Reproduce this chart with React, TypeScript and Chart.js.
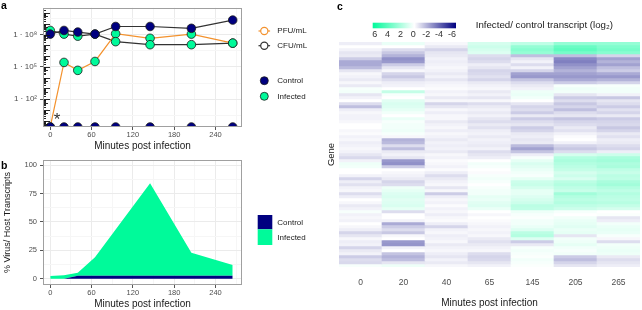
import React, { useEffect, useRef } from 'react';
import { Chart, registerables } from 'chart.js';

Chart.register(...registerables);

const FONT = "'Liberation Sans', Arial, Helvetica, sans-serif";
const NAVY = '#000080';
const GREEN = '#00FA9A';
const ORANGE = '#F3922E';
const DARK = '#333333';
const TICK_GREY = '#4D4D4D';
const TEXT = '#1A1A1A';
const GRID_MAJOR = '#EBEBEB';
const GRID_MINOR = '#F6F6F6';
const PANEL_BORDER = '#A0A0A0';

// ---------- a: bacterial (CFU) and phage (PFU) titres ----------
const TITRE_MINUTES = [0, 20, 40, 65, 95, 145, 205, 265];
const CFU_CONTROL = [1.1e8, 2.4e8, 1.7e8, 1.1e8, 5.6e8, 5.6e8, 3.8e8, 2.2e9];
const CFU_INFECTED = [2.4e8, 1.1e8, 7.1e7, 1.1e8, 2.2e7, 1.15e7, 1.15e7, 1.6e7];
const PFU_CONTROL = [0, 0, 0, 0, 0, 0, 0, 0];
const PFU_INFECTED = [0, 2.6e5, 4.8e4, 3.2e5, 1.2e8, 4.5e7, 1.1e8, 1.6e7];
const TITRE_TICK_EXPONENTS = [2, 5, 8];
const TITRE_TICK_LABELS = ['1 · 10²', '1 · 10⁵', '1 · 10⁸'];

// ---------- b: share of viral reads ----------
const READ_MINUTES = [0, 20, 40, 65, 145, 205, 265];
const VIRUS_PCT_CONTROL = [0, 0, 2.7, 2.7, 2.7, 2.7, 2.7];
const VIRUS_PCT_INFECTED = [2.5, 3.0, 2.6, 16.2, 81.3, 20.2, 9.4];
const PCT_TICKS = [0, 25, 50, 75, 100];

// ---------- c: per-gene log2 ratio, infected / control ----------
const HEATMAP_MINUTES = ['0', '20', '40', '65', '145', '205', '265'];
const LOG2_T0 = [
  -0.4, 0, -0.3, -0.6, -0.5, -1.2, -2, -2, -1.6, -0.6, -0.2, -0.3, -0.5, -0.2, -0.5, 0.2, 0.3, -0.6, -0.3, 0, -0.8, -1.5, -0.4, -0.2, -0.3,
  -0.3, -0.2, 0, 0, -0.2, -0.1, -0.3, -0.2, -0.4, -0.3, -0.2, -0.3, -0.6, -0.9, -0.3, 0.4, 0.3, 0, 0, -0.3, -1.0, -0.4, -0.7, -0.3, -0.2,
  -0.8, -0.4, 0, -0.2, -0.5, -0.3, 0.2, -0.3, -0.2, -0.3, 0, -0.2, -0.4, -1.0, -0.6, -0.2, -0.4, -0.3, -1.0, -0.5, -0.3, -1.2, -0.8, -0.9, 0.2,
];
const LOG2_T20 = [
  0.5, 0, -0.8, -1.3, -1.8, -2.6, -2.4, -1.2, -0.6, -0.2, -1.0, -1.3, -0.8, -0.4, -0.3, 0, 1.4, 0.2, 0, 0.7, 0.9, 0.8, 0.6, 0.3, 0,
  0.5, 0.2, 0.3, 0.3, 0.4, 0.2, -0.2, -1.8, -1.6, -0.8, -1.5, -0.5, -0.3, -0.6, -2.4, -2.6, -1.2, 0, -0.2, -0.3, -0.5, -1.0, -0.8, 0.4, 0.6,
  0.8, 0.9, 0.7, 0.8, 0.9, 0.6, -0.8, 0, 0, -0.3, -2.0, -1.2, -0.8, -1.3, -0.2, 0, -2.4, -2.5, -0.3, 0, -1.4, -1.8, -1.5, -0.6, 0.4,
];
const LOG2_T40 = [
  -0.2, -0.5, -1.0, -0.6, -0.5, -0.3, -0.4, -0.3, -0.2, -0.3, -0.5, -0.3, -0.6, -0.3, -0.2, -0.1, -0.3, -0.2, -0.5, -0.2, -1.0, -0.6, -0.2, -0.4, -0.2,
  -0.2, -0.5, -0.3, -0.2, -0.4, -0.2, -0.3, -0.5, -0.3, -0.4, -0.3, -0.5, -0.2, -0.3, -0.1, -0.2, -0.3, -0.1, -0.4, -0.8, -0.5, -0.3, -0.2, -0.6, -0.2,
  -1.2, -0.4, -0.2, -0.3, -0.1, -0.3, -0.2, -0.4, -0.2, -0.1, -0.4, -1.0, -0.3, -0.2, -0.4, -0.3, -0.2, -0.5, -0.3, -0.2, -0.4, -0.6, -0.3, -0.5, -0.2,
];
const LOG2_T65 = [
  1.0, 1.2, 1.0, 0.8, -0.8, -1.0, -0.8, -0.4, -0.6, -1.0, -0.9, -0.7, -1.0, -0.5, -0.3, -0.2, -0.5, -0.3, -0.6, -0.2, -0.8, -0.5, -0.3, -0.5, -0.3,
  -0.6, -0.8, -0.5, -0.7, -0.4, -0.3, -0.5, -0.3, -0.4, -0.5, -0.3, -0.8, -0.6, -0.4, 0, 0.3, 0.2, 0, -0.1, 0.2, 0.3, 0.2, 0, 0.2, 0.3,
  0.3, 0.6, 0.5, 0.7, 0.8, 0.5, 0, -0.2, 0, -0.1, -0.2, -0.3, -0.2, -0.3, -0.2, -0.5, -0.7, -0.5, -0.3, -0.2, -0.8, -1.0, -0.9, -0.6, -0.3,
];
const LOG2_T145 = [
  1.5, 2.5, 2.8, 2.5, -1.5, -0.6, -0.3, -0.8, -0.3, -1.0, -2.2, -2.4, -1.4, -0.8, -0.5, -0.3, 0.4, 0.5, 0.3, 0, -0.6, -1.0, -0.8, -1.2, -0.5,
  -1.2, -0.8, -0.6, -1.2, -1.0, -0.5, -0.4, -0.6, -0.5, -1.6, -2.2, -1.4, -0.4, 0.2, 0.6, 0.9, 0.7, 0.5, 0.3, 0.2, 0.6, 1.2, 1.3, 1.0, 0.6,
  0.6, 0.8, 1.0, 1.2, 1.6, 1.5, 0.4, 0.2, 0.1, 0.3, 0.3, 0.5, 0.8, 1.6, 1.8, 0.8, -1.2, -0.5, 0.2, 0.3, 0.2, 0.1, 0.3, 0.2, 0.1,
];
const LOG2_T205 = [
  2.5, 3.5, 3.8, 3.2, -1.5, -2.8, -3.0, -2.6, -2.2, -1.8, -2.2, -2.4, -2.0, -1.2, 0.2, 0.4, 0.3, -0.6, -1.2, -0.8, -1.3, -1.0, -1.5, -0.8, -0.6,
  -1.4, -1.0, -0.8, -0.5, -0.7, -0.3, -0.1, 0, -0.3, -1.0, -1.3, -0.8, 1.0, 1.8, 2.0, 1.8, 1.6, 1.4, 1.0, 1.2, 0.9, 1.6, 1.8, 1.5, 1.3,
  2.2, 1.8, 1.6, 1.8, 1.5, 1.2, 0.2, 0, 0.3, 0.5, 0.6, 0.7, 0.5, 0.6, -0.6, 0.3, 0.4, 0.6, 0.3, 0.2, 0.3, -1.2, -1.5, -1.0, -0.6,
];
const LOG2_T265 = [
  2.5, 3.0, 3.2, 2.8, -1.0, -2.2, -1.8, -2.2, -1.5, -1.2, -2.0, -2.4, -1.8, -1.0, 0.2, 0.3, 0.3, -0.3, -1.3, -0.6, -0.8, -1.2, -0.7, -1.0, -0.5,
  -1.2, -1.0, -0.9, -1.3, -1.0, -0.5, -0.7, -0.4, -0.5, -0.8, -1.0, -0.4, 1.2, 2.0, 2.2, 1.9, 2.0, 1.5, 1.3, 1.6, 1.5, 2.0, 2.2, 1.8, 1.5,
  1.8, 1.6, 1.5, 1.7, 1.4, 1.0, 0, 0.1, -0.6, -0.4, 0.3, 0.5, 0.6, 0.5, 0.2, -0.2, -0.8, 0.3, 0.4, 0.5, 0.4, -0.5, -0.8, -0.6, -0.4,
];
const COLORBAR_TICKS = [6, 4, 2, 0, -2, -4, -6];

// ---------- shared helpers ----------
const WHITE_RGB = [255, 255, 255];
const UP_RGB = [0, 250, 154];
const DOWN_RGB = [0, 0, 128];
const RATIO_LIMIT = 6;

function ratioColor(v: number): string {
  const t = Math.max(-1, Math.min(1, (v || 0) / RATIO_LIMIT));
  const target = t >= 0 ? UP_RGB : DOWN_RGB;
  const f = Math.abs(t);
  const c = WHITE_RGB.map((w, i) => Math.round(w + (target[i] - w) * f));
  return `rgb(${c[0]},${c[1]},${c[2]})`;
}

const font = (size: number, weight = 'normal') => `${weight} ${size}px ${FONT}`;

function drawPanelLetter(ctx: CanvasRenderingContext2D, letter: string, x: number, y: number) {
  ctx.save();
  ctx.font = font(10.5, 'bold');
  ctx.fillStyle = '#000';
  ctx.textAlign = 'left';
  ctx.textBaseline = 'alphabetic';
  ctx.fillText(letter, x, y);
  ctx.restore();
}

function strokePanel(chart: any) {
  const { ctx, chartArea: a } = chart;
  ctx.save();
  ctx.strokeStyle = PANEL_BORDER;
  ctx.lineWidth = 1;
  ctx.strokeRect(Math.round(a.left) + 0.5, Math.round(a.top) + 0.5, Math.round(a.right - a.left) - 1, Math.round(a.bottom - a.top) - 1);
  ctx.restore();
}

// time axis shared by panels a and b
const TIME_MIN = -10.5;
const TIME_MAX = 278.5;
const TIME_GRID = [0, 30, 60, 90, 120, 150, 180, 210, 240, 270];
const isMajorMinute = (v: number) => v % 60 === 0;

function timeAxis(height: number) {
  return {
    type: 'linear',
    min: TIME_MIN,
    max: TIME_MAX,
    afterBuildTicks: (s: any) => { s.ticks = TIME_GRID.map((value) => ({ value })); },
    afterFit: (s: any) => { s.height = height; },
    ticks: {
      autoSkip: false,
      maxRotation: 0,
      padding: 0,
      color: TICK_GREY,
      font: { family: FONT, size: 7.5 },
      callback: (v: number) => (isMajorMinute(v) ? String(v) : ''),
    },
    grid: {
      color: (c: any) => (c.tick && isMajorMinute(c.tick.value) ? GRID_MAJOR : GRID_MINOR),
      tickColor: (c: any) => (c.tick && isMajorMinute(c.tick.value) ? '#555' : 'rgba(0,0,0,0)'),
      tickLength: 3,
      lineWidth: 1,
    },
    border: { display: false },
    title: { display: true, text: 'Minutes post infection', color: TEXT, font: { family: FONT, size: 10 }, padding: { top: 0, bottom: 0 } },
  };
}

// ---------- panel a ----------
const LOG_MIN = Math.pow(10, -0.57);
const LOG_MAX = Math.pow(10, 10.48);
const TITRE_GRID_EXPONENTS = [0.5, 2, 3.5, 5, 6.5, 8, 9.5];
const isLabelledExponent = (v: number) => TITRE_TICK_EXPONENTS.some((e) => Math.abs(Math.log10(v) - e) < 1e-6);

const titrePoints = (values: number[]) =>
  TITRE_MINUTES.map((x, i) => ({ x, y: values[i] > 0 ? values[i] : LOG_MIN }));

function makeTitreConfig(): any {
  const lines = [
    { values: PFU_INFECTED, color: ORANGE },
    { values: PFU_CONTROL, color: ORANGE },
    { values: CFU_INFECTED, color: DARK },
    { values: CFU_CONTROL, color: DARK },
  ].map((s) => ({
    data: titrePoints(s.values),
    borderColor: s.color,
    borderWidth: 1.2,
    pointRadius: 0,
    tension: 0,
    fill: false,
    clip: 0,
    order: 1,
  }));
  const dots = [
    { values: CFU_CONTROL, fill: NAVY },
    { values: PFU_CONTROL, fill: NAVY },
    { values: CFU_INFECTED, fill: GREEN },
    { values: PFU_INFECTED, fill: GREEN },
  ].map((s) => ({
    data: titrePoints(s.values),
    showLine: false,
    pointRadius: 4.3,
    pointBackgroundColor: s.fill,
    pointBorderColor: '#1A1A1A',
    pointBorderWidth: 0.8,
    clip: 0,
    order: 0,
  }));

  const decorations = {
    id: 'titreDecorations',
    afterDatasetsDraw(chart: any) {
      const { ctx, chartArea: a } = chart;
      const y = chart.scales.y;
      const x = chart.scales.x;
      ctx.save();
      ctx.beginPath();
      ctx.rect(a.left, a.top, a.right - a.left, a.bottom - a.top);
      ctx.clip();
      // log10 tick marks along the inside of the left edge
      ctx.strokeStyle = '#111';
      ctx.lineWidth = 0.9;
      for (let d = -1; d <= 11; d++) {
        for (let k = 1; k <= 9; k++) {
          const v = k * Math.pow(10, d);
          if (v < LOG_MIN || v > LOG_MAX) continue;
          const py = Math.round(y.getPixelForValue(v)) + 0.5;
          const len = k === 1 ? 7 : k === 5 ? 5 : 3;
          ctx.beginPath();
          ctx.moveTo(a.left, py);
          ctx.lineTo(a.left + len, py);
          ctx.stroke();
        }
      }
      ctx.restore();
      // marker for the first infected PFU sample
      ctx.save();
      ctx.font = font(17);
      ctx.fillStyle = DARK;
      ctx.textAlign = 'center';
      ctx.textBaseline = 'alphabetic';
      ctx.fillText('*', x.getPixelForValue(10), y.getPixelForValue(3) + 9.7);
      ctx.restore();
    },
    afterDraw(chart: any) {
      const { ctx } = chart;
      strokePanel(chart);
      drawPanelLetter(ctx, 'a', 1, 8.5);
      ctx.save();
      ctx.font = font(8);
      ctx.textBaseline = 'middle';
      ctx.textAlign = 'left';
      const symX = 264.3;
      const textX = 277.3;
      [
        { label: 'PFU/mL', color: ORANGE, y: 31 },
        { label: 'CFU/mL', color: DARK, y: 45.7 },
      ].forEach((e) => {
        ctx.strokeStyle = e.color;
        ctx.lineWidth = 1.2;
        ctx.beginPath();
        ctx.moveTo(symX - 5.8, e.y);
        ctx.lineTo(symX + 5.8, e.y);
        ctx.stroke();
        ctx.beginPath();
        ctx.arc(symX, e.y, 3.6, 0, Math.PI * 2);
        ctx.fillStyle = '#fff';
        ctx.fill();
        ctx.stroke();
        ctx.fillStyle = TEXT;
        ctx.fillText(e.label, textX, e.y);
      });
      [
        { label: 'Control', color: NAVY, y: 80.7 },
        { label: 'Infected', color: GREEN, y: 96.3 },
      ].forEach((e) => {
        ctx.beginPath();
        ctx.arc(symX, e.y, 4, 0, Math.PI * 2);
        ctx.fillStyle = e.color;
        ctx.fill();
        ctx.strokeStyle = '#1A1A1A';
        ctx.lineWidth = 0.8;
        ctx.stroke();
        ctx.fillStyle = TEXT;
        ctx.fillText(e.label, textX, e.y);
      });
      ctx.restore();
    },
  };

  return {
    type: 'line',
    data: { datasets: [...lines, ...dots] },
    options: {
      animation: false,
      responsive: false,
      devicePixelRatio: 1,
      events: [],
      layout: { padding: { top: 1, right: 78, left: 0, bottom: 0 } },
      plugins: { legend: { display: false }, tooltip: { enabled: false } },
      scales: {
        x: timeAxis(25),
        y: {
          type: 'logarithmic',
          min: LOG_MIN,
          max: LOG_MAX,
          afterBuildTicks: (s: any) => { s.ticks = TITRE_GRID_EXPONENTS.map((e) => ({ value: Math.pow(10, e) })); },
          afterFit: (s: any) => { s.width = 43; },
          ticks: {
            autoSkip: false,
            padding: 3,
            color: TICK_GREY,
            font: { family: FONT, size: 8 },
            callback: (v: number) => {
              const i = TITRE_TICK_EXPONENTS.findIndex((e) => Math.abs(Math.log10(v) - e) < 1e-6);
              return i >= 0 ? TITRE_TICK_LABELS[i] : '';
            },
          },
          grid: {
            color: (c: any) => (c.tick && isLabelledExponent(c.tick.value) ? GRID_MAJOR : GRID_MINOR),
            tickColor: (c: any) => (c.tick && isLabelledExponent(c.tick.value) ? '#555' : 'rgba(0,0,0,0)'),
            tickLength: 3,
          },
          border: { display: false },
        },
      },
    },
    plugins: [decorations],
  };
}

// ---------- panel b ----------
const PCT_GRID = [0, 12.5, 25, 37.5, 50, 62.5, 75, 87.5, 100];

function makeReadsConfig(): any {
  const pts = (vals: number[]) => READ_MINUTES.map((x, i) => ({ x, y: vals[i] }));
  const decorations = {
    id: 'readsDecorations',
    afterDraw(chart: any) {
      const { ctx } = chart;
      strokePanel(chart);
      drawPanelLetter(ctx, 'b', 1, 19);
      ctx.save();
      const left = 257.7;
      const w = 14.6;
      ctx.fillStyle = NAVY;
      ctx.fillRect(left, 65, w, 14.3);
      ctx.fillStyle = GREEN;
      ctx.fillRect(left, 79.3, w, 15.7);
      ctx.font = font(8);
      ctx.fillStyle = TEXT;
      ctx.textBaseline = 'middle';
      ctx.fillText('Control', 277.3, 72.3);
      ctx.fillText('Infected', 277.3, 87.7);
      ctx.restore();
    },
  };
  return {
    type: 'line',
    data: {
      datasets: [
        { label: 'Control', data: pts(VIRUS_PCT_CONTROL), backgroundColor: NAVY, borderColor: 'rgba(0,0,0,0)', borderWidth: 0, pointRadius: 0, tension: 0, fill: 'origin' },
        { label: 'Infected', data: pts(VIRUS_PCT_INFECTED), backgroundColor: GREEN, borderColor: 'rgba(0,0,0,0)', borderWidth: 0, pointRadius: 0, tension: 0, fill: '-1' },
      ],
    },
    options: {
      animation: false,
      responsive: false,
      devicePixelRatio: 1,
      events: [],
      layout: { padding: { top: 10, right: 78, left: 0, bottom: 0 } },
      plugins: { legend: { display: false }, tooltip: { enabled: false }, filler: { propagate: false } },
      scales: {
        x: timeAxis(25),
        y: {
          type: 'linear',
          stacked: true,
          min: -5.5,
          max: 104.5,
          afterBuildTicks: (s: any) => { s.ticks = PCT_GRID.map((value) => ({ value })); },
          afterFit: (s: any) => { s.width = 43; },
          ticks: {
            autoSkip: false,
            padding: 3,
            color: TICK_GREY,
            font: { family: FONT, size: 7.5 },
            callback: (v: number) => (PCT_TICKS.includes(v) ? String(v) : ''),
          },
          grid: {
            color: (c: any) => (c.tick && PCT_TICKS.includes(c.tick.value) ? GRID_MAJOR : GRID_MINOR),
            tickColor: (c: any) => (c.tick && PCT_TICKS.includes(c.tick.value) ? '#555' : 'rgba(0,0,0,0)'),
            tickLength: 3,
          },
          border: { display: false },
          title: { display: true, text: '% Virus/ Host Transcripts', color: TEXT, font: { family: FONT, size: 9 }, padding: { top: 2, bottom: 0 } },
        },
      },
    },
    plugins: [decorations],
  };
}

// ---------- panel c ----------
const HEATMAP_COLUMNS = [LOG2_T0, LOG2_T20, LOG2_T40, LOG2_T65, LOG2_T145, LOG2_T205, LOG2_T265];
const GENE_COUNT = Math.max(...HEATMAP_COLUMNS.map((c) => c.length));

function makeHeatmapConfig(): any {
  const datasets = Array.from({ length: GENE_COUNT }, (_, r) => ({
    label: `gene ${r + 1}`,
    data: HEATMAP_MINUTES.map(() => 1),
    backgroundColor: HEATMAP_COLUMNS.map((col) => ratioColor(col[r] ?? 0)),
    borderWidth: 0,
    barPercentage: 1,
    categoryPercentage: 1,
  }));

  const legend = {
    id: 'ratioColorbar',
    afterDraw(chart: any) {
      const { ctx } = chart;
      drawPanelLetter(ctx, 'c', 17, 9.5);
      const bx = 52.7;
      const bw = 83.3;
      const by = 22.7;
      const bh = 5.6;
      ctx.save();
      const g = ctx.createLinearGradient(bx, 0, bx + bw, 0);
      g.addColorStop(0, ratioColor(RATIO_LIMIT));
      g.addColorStop(0.5, ratioColor(0));
      g.addColorStop(1, ratioColor(-RATIO_LIMIT));
      ctx.fillStyle = g;
      ctx.fillRect(bx, by, bw, bh);
      ctx.font = font(9);
      ctx.fillStyle = '#333';
      ctx.textAlign = 'center';
      ctx.textBaseline = 'middle';
      COLORBAR_TICKS.forEach((v) => {
        const px = bx + 2 + ((RATIO_LIMIT - v) / (2 * RATIO_LIMIT)) * (bw - 6);
        ctx.fillText(String(v), px, 34.7);
      });
      ctx.font = font(9.7);
      ctx.fillStyle = TEXT;
      ctx.textAlign = 'left';
      ctx.fillText('Infected/ control transcript (log₂)', 155.7, 25.5);
      ctx.restore();
    },
  };

  return {
    type: 'bar',
    data: { labels: HEATMAP_MINUTES, datasets },
    options: {
      animation: false,
      responsive: false,
      devicePixelRatio: 1,
      events: [],
      layout: { padding: { top: 42, right: 2, left: 0, bottom: 0 } },
      plugins: { legend: { display: false }, tooltip: { enabled: false } },
      scales: {
        x: {
          type: 'category',
          stacked: true,
          afterFit: (s: any) => { s.height = 43; },
          grid: { display: false, drawTicks: false },
          border: { display: false },
          ticks: { padding: 11, color: TICK_GREY, font: { family: FONT, size: 8.5 }, maxRotation: 0 },
          title: { display: true, text: 'Minutes post infection', color: TEXT, font: { family: FONT, size: 10 }, padding: { top: 0, bottom: 1 } },
        },
        y: {
          type: 'linear',
          stacked: true,
          min: 0,
          max: GENE_COUNT,
          reverse: true,
          afterFit: (s: any) => { s.width = 19; },
          grid: { display: false, drawTicks: false },
          border: { display: false },
          ticks: { display: false },
          title: { display: true, text: 'Gene', color: TEXT, font: { family: FONT, size: 9.5 }, padding: { top: 6, bottom: 0 } },
        },
      },
    },
    plugins: [legend],
  };
}

function ChartCanvas({ make, left, top, width, height }: { make: () => any; left: number; top: number; width: number; height: number }) {
  const ref = useRef<HTMLCanvasElement | null>(null);
  useEffect(() => {
    if (!ref.current) return;
    const chart = new Chart(ref.current, make());
    return () => chart.destroy();
  }, [make]);
  return (
    <canvas
      ref={ref}
      width={width}
      height={height}
      style={{ position: 'absolute', left, top, width, height }}
    />
  );
}

export default function App() {
  return (
    <div style={{ position: 'absolute', left: 0, top: 0, width: 642, height: 310, background: '#fff', overflow: 'hidden' }}>
      <ChartCanvas make={makeTitreConfig} left={0} top={0} width={320} height={152} />
      <ChartCanvas make={makeReadsConfig} left={0} top={150} width={320} height={160} />
      <ChartCanvas make={makeHeatmapConfig} left={320} top={0} width={322} height={310} />
    </div>
  );
}
